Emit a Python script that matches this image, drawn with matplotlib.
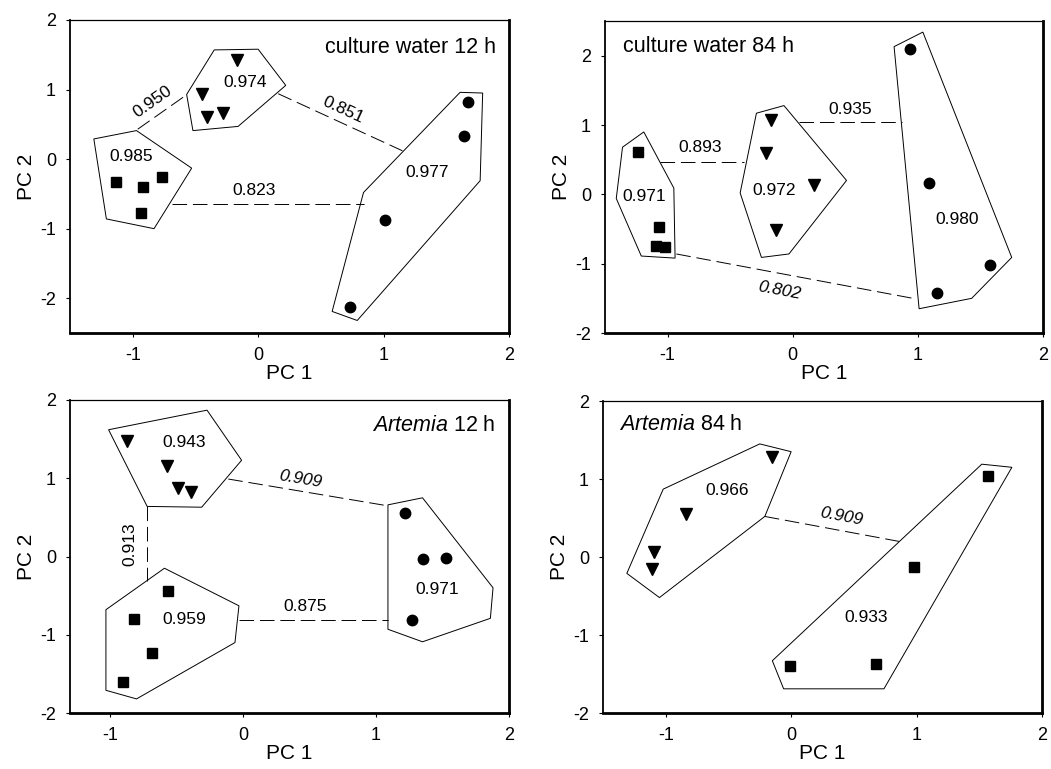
import numpy as np
import matplotlib.pyplot as plt

plt.rcParams['font.family'] = ['Liberation Sans', 'DejaVu Sans']
plt.rcParams['mathtext.fontset'] = 'custom'
plt.rcParams['mathtext.it'] = 'Liberation Sans:italic'
plt.rcParams['mathtext.rm'] = 'Liberation Sans'

# ---- culture water 12 h ----
cw12_tri = ([-0.17, -0.45, -0.41, -0.28], [1.43, 0.94, 0.60, 0.67])
cw12_sq = ([-1.13, -0.92, -0.77, -0.93], [-0.33, -0.40, -0.26, -0.77])
cw12_ci = ([1.67, 1.64, 1.01, 0.73], [0.82, 0.33, -0.88, -2.13])
cw12_hulls = [
    [(-0.35, 1.57), (0.0, 1.58), (0.22, 1.06), (-0.16, 0.47), (-0.52, 0.41), (-0.57, 0.93)],
    [(-1.31, 0.29), (-0.97, 0.41), (-0.53, -0.13), (-0.83, -1.0), (-1.21, -0.86)],
    [(1.61, 0.96), (1.79, 0.95), (1.77, -0.31), (0.79, -2.32), (0.59, -2.19), (0.84, -0.48)],
]
cw12_links = [(-0.96, 0.43, -0.59, 0.90), (0.16, 0.94, 1.15, 0.12), (-0.69, -0.64, 0.84, -0.64)]
cw12_link_r = ['0.950', '0.851', '0.823']
cw12_link_pos = [(-0.84, 0.83, False), (0.68, 0.71, False), (-0.03, -0.45, False)]
cw12_r = ['0.974', '0.985', '0.977']
cw12_r_pos = [(-0.10, 1.10), (-1.01, 0.04), (1.35, -0.19)]

# ---- culture water 84 h ----
cw84_tri = ([-0.17, -0.21, 0.17, -0.13], [1.07, 0.59, 0.14, -0.51])
cw84_sq = ([-1.24, -1.07, -1.09, -1.02], [0.61, -0.47, -0.74, -0.76])
cw84_ci = ([0.94, 1.09, 1.58, 1.15], [2.09, 0.16, -1.02, -1.43])
cw84_hulls = [
    [(-0.29, 1.17), (-0.07, 1.28), (0.43, 0.20), (-0.03, -0.86), (-0.25, -0.91), (-0.42, 0.02)],
    [(-1.36, 0.68), (-1.19, 0.90), (-0.95, 0.09), (-0.94, -0.92), (-1.21, -0.89), (-1.41, -0.06)],
    [(0.81, 2.13), (1.04, 2.34), (1.75, -0.91), (1.43, -1.50), (1.01, -1.65)],
]
cw84_links = [(0.05, 1.04, 0.87, 1.04), (-1.06, 0.47, -0.39, 0.47), (-0.93, -0.86, 0.99, -1.51)]
cw84_link_r = ['0.935', '0.893', '0.802']
cw84_link_pos = [(0.46, 1.23, False), (-0.74, 0.68, False), (-0.11, -1.39, True)]
cw84_r = ['0.972', '0.971', '0.980']
cw84_r_pos = [(-0.15, 0.05), (-1.19, -0.03), (1.31, -0.36)]

# ---- Artemia 12 h ----
ar12_tri = ([-0.87, -0.57, -0.49, -0.39], [1.48, 1.16, 0.87, 0.83])
ar12_sq = ([-0.56, -0.82, -0.68, -0.90], [-0.44, -0.80, -1.23, -1.61])
ar12_ci = ([1.22, 1.35, 1.53, 1.27], [0.56, -0.03, -0.02, -0.81])
ar12_hulls = [
    [(-1.01, 1.62), (-0.27, 1.87), (-0.01, 1.23), (-0.31, 0.63), (-0.72, 0.64)],
    [(-0.59, -0.15), (-0.03, -0.63), (-0.06, -1.10), (-0.80, -1.82), (-1.03, -1.71), (-1.03, -0.68)],
    [(1.09, 0.66), (1.35, 0.75), (1.88, -0.40), (1.86, -0.79), (1.35, -1.09), (1.09, -0.93)],
]
ar12_links = [(-0.11, 0.99, 1.08, 0.65), (-0.72, 0.64, -0.72, -0.31), (-0.03, -0.81, 1.09, -0.81)]
ar12_link_r = ['0.909', '0.913', '0.875']
ar12_link_pos = [(0.43, 0.99, True), (-0.85, 0.16, False), (0.47, -0.64, False)]
ar12_r = ['0.943', '0.959', '0.971']
ar12_r_pos = [(-0.44, 1.46), (-0.44, -0.80), (1.46, -0.42)]

# ---- Artemia 84 h ----
ar84_tri = ([-0.15, -0.84, -1.09, -1.11], [1.28, 0.55, 0.07, -0.16])
ar84_sq = ([1.57, 0.98, -0.01, 0.68], [1.04, -0.13, -1.40, -1.37])
ar84_hulls = [
    [(-1.02, 0.87), (-0.25, 1.45), (0.0, 1.35), (-0.21, 0.52), (-1.05, -0.52), (-1.31, -0.21)],
    [(1.52, 1.19), (1.76, 1.15), (0.74, -1.69), (-0.06, -1.69), (-0.15, -1.33)],
]
ar84_links = [(-0.21, 0.52, 0.86, 0.20)]
ar84_link_r = ['0.909']
ar84_link_pos = [(0.40, 0.52, True)]
ar84_r = ['0.966', '0.933']
ar84_r_pos = [(-0.51, 0.85), (0.60, -0.77)]


def draw_panel(ax, groups, hulls, links, link_r, link_pos, r, r_pos, xlim, ylim):
    for (x, y), m, ms in groups:
        ax.plot(x, y, linestyle='none', marker=m, ms=ms, color='black', zorder=3)
    for h in hulls:
        ax.add_patch(plt.Polygon(h, closed=True, fill=False, ec='black', lw=0.7, zorder=2))
    for (x0, y0, x1, y1), lab, (lx, ly, it) in zip(links, link_r, link_pos):
        ax.plot([x0, x1], [y0, y1], color='black', lw=0.7, dashes=(15, 6), zorder=1)
        ang = np.degrees(np.arctan2(y1 - y0, x1 - x0))
        if abs(x1 - x0) < 1e-6:
            ax.text(lx, ly, lab, rotation=90, ha='center', va='center', fontsize=12.5)
        elif abs(y1 - y0) < 1e-6:
            ax.text(lx, ly, lab, ha='center', va='center', fontsize=12.5)
        else:
            ax.text(lx, ly, lab, rotation=ang, transform_rotates_text=True,
                    rotation_mode='anchor', ha='center', va='center', fontsize=12.5,
                    style='italic' if it else 'normal')
    for lab, (lx, ly) in zip(r, r_pos):
        ax.text(lx, ly, lab, ha='center', va='center', fontsize=12.5)
    ax.set_xlim(*xlim)
    ax.set_ylim(*ylim)
    ax.set_xticks([-1, 0, 1, 2])
    ax.set_yticks([-2, -1, 0, 1, 2])
    ax.set_xticklabels(['-1', '0', '1', '2'])
    ax.set_yticklabels(['-2', '-1', '0', '1', '2'])
    ax.tick_params(direction='out', length=3, width=0.8, labelsize=13, pad=7)
    ax.set_xlabel('PC 1', fontsize=15, labelpad=0)
    ax.set_ylabel('PC 2', fontsize=15, labelpad=3)
    ax.spines['left'].set_linewidth(1.3)
    ax.spines['top'].set_linewidth(0.9)
    ax.spines['bottom'].set_linewidth(2)
    ax.spines['right'].set_linewidth(2)


W, H = 1051, 769
fig = plt.figure(figsize=(W / 100, H / 100), dpi=100)


def add_axes(l, r, t, b):
    return fig.add_axes([l / W, (H - b) / H, (r - l) / W, (b - t) / H])


ax1 = add_axes(70, 509, 20, 333)
ax2 = add_axes(605, 1043, 21, 333)
ax3 = add_axes(70, 509, 400, 713)
ax4 = add_axes(603, 1042, 401, 713)

draw_panel(ax1, [(cw12_tri, 'v', 8), (cw12_sq, 's', 7), (cw12_ci, 'o', 7.5)],
           cw12_hulls, cw12_links, cw12_link_r, cw12_link_pos, cw12_r, cw12_r_pos,
           (-1.5, 2), (-2.5, 2))
ax1.text(1.9, 1.61, 'culture water 12 h', ha='right', va='center', fontsize=15.5)

draw_panel(ax2, [(cw84_tri, 'v', 8), (cw84_sq, 's', 7), (cw84_ci, 'o', 7.5)],
           cw84_hulls, cw84_links, cw84_link_r, cw84_link_pos, cw84_r, cw84_r_pos,
           (-1.5, 2), (-2, 2.5))
ax2.text(-1.36, 2.13, 'culture water 84 h', ha='left', va='center', fontsize=15.5)

draw_panel(ax3, [(ar12_tri, 'v', 8), (ar12_sq, 's', 7), (ar12_ci, 'o', 7.5)],
           ar12_hulls, ar12_links, ar12_link_r, ar12_link_pos, ar12_r, ar12_r_pos,
           (-1.3, 2), (-2, 2))
ax3.text(1.9, 1.67, r'$\mathit{Artemia}$ 12 h', ha='right', va='center', fontsize=15.5)

draw_panel(ax4, [(ar84_tri, 'v', 8), (ar84_sq, 's', 7)],
           ar84_hulls, ar84_links, ar84_link_r, ar84_link_pos, ar84_r, ar84_r_pos,
           (-1.5, 2), (-2, 2))
ax4.text(-1.37, 1.70, r'$\mathit{Artemia}$ 84 h', ha='left', va='center', fontsize=15.5)

fig.savefig('out.png', dpi=100)
